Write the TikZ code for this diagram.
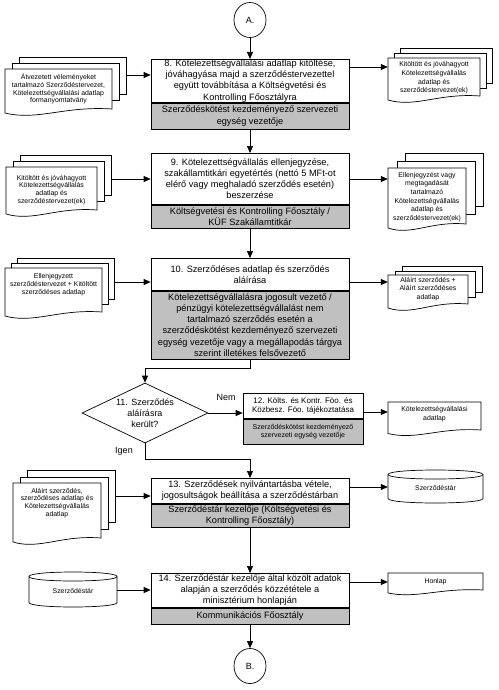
\documentclass[tikz,border=0pt]{standalone}
\usepackage{fontspec}
\setmainfont{Liberation Sans}
\usetikzlibrary{arrows.meta,shapes.geometric,calc}
\definecolor{grayfill}{RGB}{192,192,192}
\def\docfs{\fontsize{6.9}{7.8}\selectfont}
\tikzset{
 ln/.style={line width=0.7pt, draw=black},
 arr/.style={ln, -{Triangle[length=7pt,width=6pt]}},
 wbox/.style={ln, fill=white, minimum width=198pt, inner sep=0pt, align=center, font=\fontsize{9.2}{11.2}\selectfont, anchor=north},
 gbox/.style={wbox, fill=grayfill},
 doctext/.style={inner sep=0pt, align=center, font=\docfs},
 sheet/.style={ln, fill=white, inner sep=0pt, anchor=north west},
 docline/.style={ln, fill=white},
 conn/.style={ln, fill=white, ellipse, minimum width=32pt, minimum height=35pt, inner sep=0pt, font=\fontsize{9}{11}\selectfont},
 lbl/.style={inner sep=0pt, font=\fontsize{9}{11}\selectfont},
}
% front document: x1 y1 x2 yR amplitude
\newcommand\docfront[5]{\draw[docline] (#1,#2) -- (#3,#2) -- (#3,#4) .. controls ({#1+0.55*(#3-#1)},{#4-0.4*#5}) and ({#1+0.3*(#3-#1)},{#4+1.5*#5}) .. (#1,{#4+0.5*#5}) -- cycle;}
% multi document: name x1 y1 x2 yR dx dy texty text
\newcommand\multidoc[9]{%
 \node[sheet, minimum width={#4pt-#2pt}, minimum height={#5pt-#3pt-3pt}] (#1c) at ({#2+2*#6},{#3-2*#7}) {};
 \node[sheet, minimum width={#4pt-#2pt}, minimum height={#5pt-#3pt-3pt}] (#1b) at ({#2+#6},{#3-#7}) {};
 \docfront{#2}{#3}{#4}{#5}{8}
 \node[doctext, minimum width={#4pt-#2pt}] (#1) at ({(#2+#4)/2},#8) {#9};}
% single document: name x1 y1 x2 yR a texty text
\newcommand\singledoc[8]{%
 \docfront{#2}{#3}{#4}{#5}{#6}
 \node[doctext, minimum width={#4pt-#2pt}] (#1) at ({(#2+#4)/2},#7) {#8};}
% cylinder: name x1 yt x2 yb text
\newcommand\cyl[6]{%
 \draw[docline] (#2,{#3+4.5}) -- (#2,{#5-4.5}) .. controls (#2,{#5+1.5}) and (#4,{#5+1.5}) .. (#4,{#5-4.5}) -- (#4,{#3+4.5}) .. controls (#4,{#3-1.5}) and (#2,{#3-1.5}) .. cycle;
 \draw[ln] (#2,{#3+4.5}) .. controls (#2,{#3+10.5}) and (#4,{#3+10.5}) .. (#4,{#3+4.5});
 \node[doctext, minimum width={#4pt-#2pt}] (#1) at ({(#2+#4)/2},{(#3+#5)/2+1}) {#6};}

\begin{document}
\begin{tikzpicture}[x=1pt,y=-1pt]
\useasboundingbox (0,0) rectangle (498,690);

% connector A
\node[conn] (A) at (250,20) {A.};

% box 8
\node[wbox, minimum height=43pt] (b8) at (250,59) {8. Kötelezettségvállalási adatlap kitöltése,\\jóváhagyása majd a szerződéstervezettel\\együtt továbbítása a Költségvetési és\\Kontrolling Főosztályra};
\node[gbox, minimum height=26pt] (b8g) at (b8.south) {Szerződéskötést kezdeményező szervezeti\\egység vezetője};

% box 9
\node[wbox, minimum height=51pt] (b9) at (250,153) {9. Kötelezettségvállalás ellenjegyzése,\\szakállamtitkári egyetértés (nettó 5 MFt-ot\\elérő vagy meghaladó szerződés esetén)\\beszerzése};
\node[gbox, minimum height=23pt] (b9g) at (b9.south) {Költségvetési és Kontrolling Főosztály /\\KÜF Szakállamtitkár};

% box 10
\node[wbox, minimum height=32pt] (b10) at (250,258) {10. Szerződéses adatlap és szerződés\\aláírása};
\node[gbox, minimum height=68pt] (b10g) at (b10.south) {Kötelezettségvállalásra jogosult vezető /\\pénzügyi kötelezettségvállalást nem\\tartalmazó szerződés esetén a\\szerződéskötést kezdeményező szervezeti\\egység vezetője vagy a megállapodás tárgya\\szerint illetékes felsővezető};

% decision
\node[ln, fill=white, diamond, minimum width=126pt, minimum height=60pt, inner sep=0pt, aspect=2, align=center, font=\fontsize{9}{11}\selectfont] (dia) at (145,413) {11. Szerződés\\aláírásra\\került?};

% box 12
\node[wbox, minimum width=120pt, minimum height=25pt, font=\fontsize{8}{9.8}\selectfont] (b12) at (303,393) {12. Költs. és Kontr. Föo. és\\Közbesz. Föo. tájékoztatása};
\node[gbox, minimum width=120pt, minimum height=25pt, font=\fontsize{7}{8.6}\selectfont] (b12g) at (b12.south) {Szerződéskötést kezdeményező\\szervezeti egység vezetője};

% box 13
\node[wbox, minimum height=25pt] (b13) at (250,478) {13. Szerződések nyilvántartásba vétele,\\jogosultságok beállítása a szerződéstárban};
\node[gbox, minimum height=23pt] (b13g) at (b13.south) {Szerződéstár kezelője (Költségvetési és\\Kontrolling Főosztály)};

% box 14
\node[wbox, minimum height=34pt] (b14) at (250,573) {14. Szerződéstár kezelője által közölt adatok\\alapján a szerződés közzététele a\\minisztérium honlapján};
\node[gbox, minimum height=16pt] (b14g) at (b14.south) {Kommunikációs Főosztály};

% connector B
\node[conn] (B) at (250,666) {B.};

% documents left
\multidoc{l1}{5}{69}{112}{109}{7}{6}{89}{Átvezetett véleményeket\\tartalmazó Szerződéstervezet,\\Kötelezettségvállalási adatlap\\formanyomtatvány}
\multidoc{l2}{6}{167}{97}{210}{7}{6}{190}{Kitöltött és jóváhagyott\\Kötelezettségvállalás\\adatlap és\\szerződéstervezet(ek)}
\multidoc{l3}{5}{268}{102}{312}{6}{5}{285}{Ellenjegyzett\\szerződéstervezet + Kitöltött\\szerződéses adatlap}
\multidoc{l13}{13}{483}{101}{538}{7}{6.5}{503}{Aláírt szerződés,\\szerződéses adatlap és\\Kötelezettségvállalás\\adatlap}
\cyl{c14}{29}{572}{117}{607}{Szerződéstár}

% documents right
\def\docfs{\fontsize{6.9}{8.6}\selectfont}
\multidoc{r1}{388}{58}{480}{96}{6}{5}{78}{Kitöltött és jóváhagyott\\Kötelezettségvállalás\\adatlap és\\szerződéstervezet(ek)}
\multidoc{r2}{388}{168}{466}{224}{8.5}{7.5}{197}{Ellenjegyzést vagy\\megtagadását\\tartalmazó\\Kötelezettségvállalás\\adatlap és\\szerződéstervezet(ek)}
\multidoc{r3}{388}{275}{468}{304}{7}{4.5}{289}{Aláírt szerződés +\\Aláírt szerződéses\\adatlap}
\singledoc{r12}{388}{402}{481}{430}{7}{414}{Kötelezettségvállalási\\adatlap}
\cyl{c13}{388}{470}{483}{503}{Szerződéstár}
\singledoc{r14}{388}{573}{483}{590}{6}{582}{Honlap}

% main flow
\draw[arr] (A.south) -- (b8.north);
\draw[arr] (b8g.south) -- (b9.north);
\draw[arr] (b9g.south) -- (b10.north);
\draw[arr] (b10g.south) -- ++(0,9) -| (dia.north);
\draw[arr] (dia.east) -- (dia.east -| b12.west);
\draw[arr] (dia.south) -- ++(0,16) -| (b13.north);
\draw[arr] (b13g.south) -- (b14.north);
\draw[arr] (b14g.south) -- (B.north);

% inputs
\draw[arr] (l1c.east |- 0,75) -- (b8.west |- 0,75);
\draw[arr] (l2c.east |- 0,179) -- (b9.west |- 0,179);
\draw[arr] (l3c.east |- 0,282) -- (b10.west |- 0,282);
\draw[arr] (l13c.east |- 0,496) -- (b13.west |- 0,496);
\draw[arr] (c14.east |- 0,590) -- (b14.west |- 0,590);

% outputs
\draw[arr] (b8.east |- 0,67) -- (r1.west |- 0,67);
\draw[arr] (b9.east |- 0,179) -- (r2.west |- 0,179);
\draw[arr] (b10.east |- 0,282) -- (r3.west |- 0,282);
\draw[arr] (b12.east |- 0,412) -- (r12.west |- 0,412);
\draw[arr] (b13.east |- 0,487) -- (c13.west |- 0,487);
\draw[arr] (b14.east |- 0,582) -- (r14.west |- 0,582);

% labels
\node[lbl] (nem) at (226,397) {Nem};
\node[lbl] (igen) at (124,451) {Igen};
\end{tikzpicture}
\end{document}
